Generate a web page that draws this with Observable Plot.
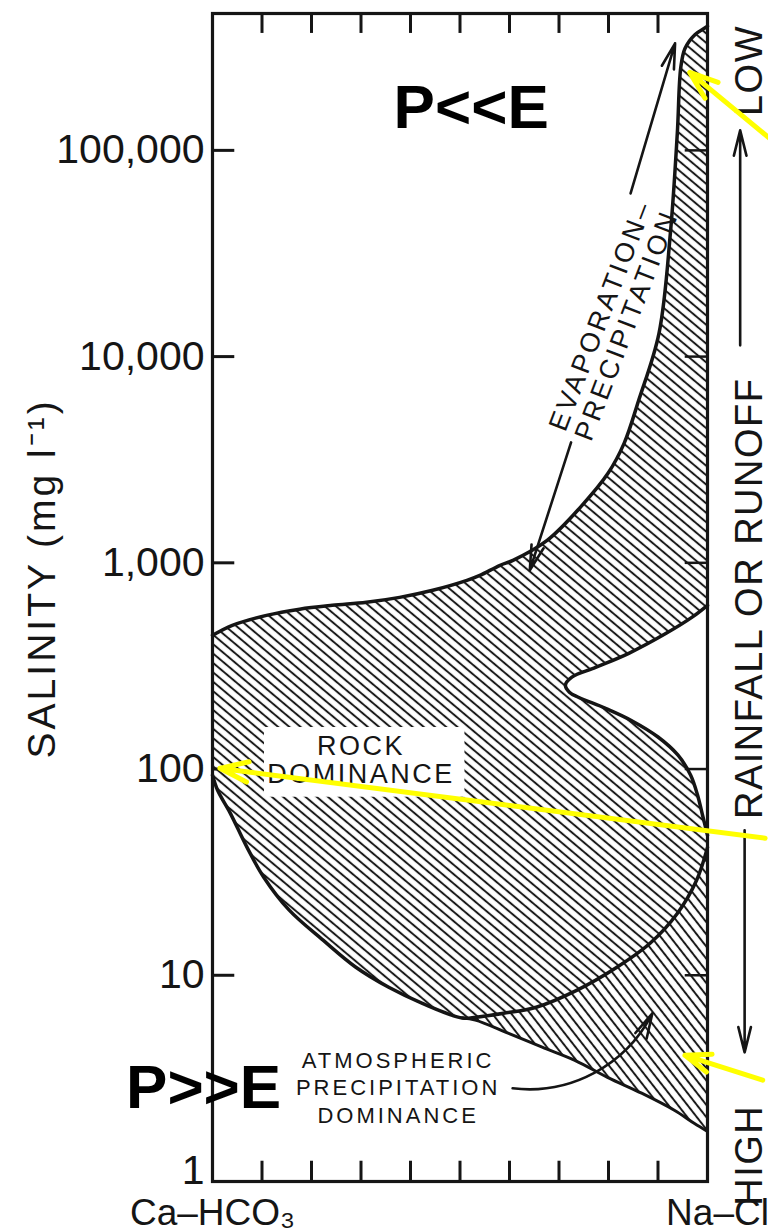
<!DOCTYPE html>
<html><head><meta charset="utf-8">
<script src="https://cdn.jsdelivr.net/npm/d3@7"></script>
<script src="https://cdn.jsdelivr.net/npm/@observablehq/plot@0.6"></script>
<style>
html,body{margin:0;padding:0;background:#fff;}
#chart svg{display:block;}
</style></head>
<body><div id="chart"></div>
<script>
// x: Na/(Na+Ca) ratio 0 (Ca-HCO3) .. 1 (Na-Cl); y: salinity mg/l (log)
const yTicks = [1, 10, 100, 1000, 10000, 100000];
const yTickLabels = ["1", "10", "100", "1,000", "10,000", "100,000"];
const xTicks = [0.1, 0.2, 0.3, 0.4, 0.5, 0.6, 0.7, 0.8, 0.9];
const endLabels = [{t:"Ca–HCO₃", x:0}, {t:"Na–Cl", x:1}];

// upper (evaporation-crystallization) edge, left frame -> top right
const upperEdge = [[0,445],[0.040,498],[0.109,556],[0.176,596],[0.242,622],[0.311,644],[0.378,680],[0.445,736],[0.514,822],[0.540,869],[0.581,973],[0.607,1028],[0.676,1285],[0.743,1858],[0.799,2716],[0.8315,3795],[0.861,6140],[0.902,12970],[0.925,39650],[0.939,120900],[0.946,252000],[0.9545,312000],[0.975,365000],[0.993,390000],[1,400000]];
// notch on the Na-Cl side and the rock-dominance lobe
const notchEdge = [[1,622],[0.969,545],[0.9165,455],[0.841,364],[0.774,311],[0.726,279],[0.713,255],[0.721,236],[0.739,223],[0.794,197],[0.846,172],[0.900,143],[0.940,117],[0.966,93.3],[0.980,74.6],[0.990,59.7],[1,47.7]];
// arc separating rock dominance from atmospheric precipitation
const arcEdge = [[1,41.7],[0.978,28.9],[0.939,19.95],[0.884,14.3],[0.817,10.94],[0.7356,8.45],[0.654,7.0],[0.588,6.54],[0.533,6.26],[0.505,6.2]];
// lower-left edge of rock dominance
const lowerLeftEdge = [[0.505,6.2],[0.424,7.31],[0.356,8.75],[0.2896,10.94],[0.2234,14.8],[0.155,20.7],[0.1035,29.9],[0.0698,41.7],[0.0361,61.0],[0.0103,78.9],[0,93.3]];
// lower edge of the atmospheric precipitation wedge
const lowerEdge = [[1,1.75],[0.973,1.917],[0.933,2.216],[0.867,2.68],[0.798,3.20],[0.732,3.87],[0.666,4.48],[0.597,5.24],[0.531,6.06],[0.505,6.2]];

const regionA = [...upperEdge, ...notchEdge, ...arcEdge, ...lowerLeftEdge.slice(1)];
const regionB = [...lowerEdge, ...arcEdge.slice().reverse()];

// annotation text
const bigLabels = [{t:"P<<E", x:0.5226, y:159800}, {t:"P>>E", x:-0.018, y:2.83}];
const rockLabel = [{t:"ROCK\nDOMINANCE", x:0.300, y:110.9}];
const rockBox = [{x1:0.105, x2:0.51, y1:73, y2:159}];
const atmosLabel = [{t:"ATMOSPHERIC\nPRECIPITATION\nDOMINANCE", x:0.375, y:2.895}];
const evapLabel = [{t:"EVAPORATION–", x:0.785, y:15800}, {t:"PRECIPITATION", x:0.837, y:14200}];
const sideLabels = [{t:"LOW", y:244000}, {t:"RAINFALL OR RUNOFF", y:673}, {t:"HIGH", y:1.34}];
const yTitle = [{t:"SALINITY (mg l⁻¹)", x:-0.343, y:841}];

const blackArrows = [
  {x1:0.8446, y1:61860, x2:0.9345, y2:330300},
  {x1:0.7244, y1:3837, x2:0.641, y2:919},
  {x1:1.066, y1:11340, x2:1.066, y2:125000},
  {x1:1.075, y1:50.5, x2:1.075, y2:4.23}
];
const curvedArrow = [{x1:0.6063, y1:2.83, x2:0.8886, y2:6.54}];
const yellowArrows = [
  {x1:1.1305, y1:111800, x2:0.9642, y2:238800},
  {x1:1.1164, y1:46.2, x2:0.0148, y2:100.8},
  {x1:1.1115, y1:3.10, x2:0.9544, y2:4.09}
];

const X = d => d[0], Y = d => d[1];
const ink = "#151515";

const chart = Plot.plot({
  width: 768, height: 1232,
  marginTop: 13, marginBottom: 51, marginLeft: 212, marginRight: 61,
  x: {domain: [0, 1], axis: null},
  y: {type: "log", domain: [1, 461000], axis: null},
  style: {fontFamily: "'Liberation Sans', Arial, sans-serif", background: "#fff", color: ink, overflow: "visible"},
  marks: [
    Plot.line(regionA, {x: X, y: Y, fill: "url(#hatchA)", stroke: "none"}),
    Plot.line(regionB, {x: X, y: Y, fill: "url(#hatchB)", stroke: "none"}),
    Plot.rect(rockBox, {x1: "x1", x2: "x2", y1: "y1", y2: "y2", fill: "white"}),
    Plot.line(upperEdge, {x: X, y: Y, stroke: ink, strokeWidth: 3.5, curve: "catmull-rom"}),
    Plot.line(notchEdge, {x: X, y: Y, stroke: ink, strokeWidth: 3.5, curve: "catmull-rom"}),
    Plot.line([...arcEdge, ...lowerLeftEdge.slice(1)], {x: X, y: Y, stroke: ink, strokeWidth: 3.5, curve: "catmull-rom"}),
    Plot.line(lowerEdge, {x: X, y: Y, stroke: ink, strokeWidth: 3, curve: "catmull-rom"}),
    Plot.frame({stroke: ink, strokeWidth: 3.2}),
    Plot.ruleY(yTicks.slice(1), {y: d => d, x1: 0, x2: 0.045, stroke: ink, strokeWidth: 3}),
    Plot.ruleY(yTicks.slice(1), {y: d => d, x1: 0.955, x2: 1, stroke: ink, strokeWidth: 2.5}),
    Plot.ruleX(xTicks, {x: d => d, y1: 461000, y2: 369000, stroke: ink, strokeWidth: 3}),
    Plot.ruleX(xTicks, {x: d => d, y1: 1, y2: 1.254, stroke: ink, strokeWidth: 3}),
    Plot.text(yTicks.slice(1), {x: 0, y: d => d, text: d => yTickLabels[yTicks.indexOf(d)], textAnchor: "end", dx: -8, fontSize: 41, lineAnchor: "middle"}),
    Plot.text(yTicks.slice(0, 1), {x: 0, y: d => d, text: d => yTickLabels[yTicks.indexOf(d)], textAnchor: "end", dx: -8, dy: -11, fontSize: 41, lineAnchor: "middle"}),
    Plot.text(endLabels.slice(0, 1), {x: "x", y: 1, text: "t", dy: 32, fontSize: 37, lineAnchor: "middle"}),
    Plot.text(endLabels.slice(1), {x: "x", y: 1, text: "t", dy: 32, dx: 10, fontSize: 37, lineAnchor: "middle"}),
    Plot.text(yTitle, {x: "x", y: "y", text: "t", rotate: -90, fontSize: 39, lineAnchor: "middle"}),
    Plot.text(sideLabels, {x: 1.085, y: "y", text: "t", rotate: -90, fontSize: 38, lineAnchor: "middle"}),
    Plot.text(rockLabel, {x: "x", y: "y", text: "t", fontSize: 27, lineHeight: 1.05, lineAnchor: "middle"}),
    Plot.text(atmosLabel, {x: "x", y: "y", text: "t", fontSize: 22, lineHeight: 1.25, lineAnchor: "middle"}),
    Plot.text(evapLabel, {x: "x", y: "y", text: "t", rotate: -69, fontSize: 27, lineAnchor: "middle"}),
    Plot.text(bigLabels, {x: "x", y: "y", text: "t", fontSize: 62, fontWeight: "bold", lineAnchor: "middle", fill: "#000"}),
    Plot.arrow(blackArrows, {x1: "x1", y1: "y1", x2: "x2", y2: "y2", stroke: ink, strokeWidth: 2.6, headLength: 15, headAngle: 28}),
    Plot.arrow(curvedArrow, {x1: "x1", y1: "y1", x2: "x2", y2: "y2", bend: -35, stroke: ink, strokeWidth: 2.6, headLength: 15, headAngle: 28}),
    Plot.arrow(yellowArrows, {x1: "x1", y1: "y1", x2: "x2", y2: "y2", stroke: "#ffff00", strokeWidth: 5, headLength: 9, headAngle: 40})
  ]
});

// hatch patterns
const ns = "http://www.w3.org/2000/svg";
const defs = document.createElementNS(ns, "defs");
function hatch(id, size, angle, w) {
  const p = document.createElementNS(ns, "pattern");
  p.setAttribute("id", id);
  p.setAttribute("patternUnits", "userSpaceOnUse");
  p.setAttribute("width", size);
  p.setAttribute("height", size);
  p.setAttribute("patternTransform", `rotate(${angle})`);
  const l = document.createElementNS(ns, "line");
  l.setAttribute("x1", -1); l.setAttribute("x2", size + 1);
  l.setAttribute("y1", size / 2); l.setAttribute("y2", size / 2);
  l.setAttribute("stroke", "#1a1a1a");
  l.setAttribute("stroke-width", w);
  p.appendChild(l);
  defs.appendChild(p);
}
hatch("hatchA", 7.2, 40, 2);
hatch("hatchB", 7.5, 52, 2);
chart.insertBefore(defs, chart.firstChild);

// letter spacing for the hand-lettered labels
const spacing = [["ROCK", 2.5], ["ATMOSPHERIC", 3], ["EVAPORATION", 3.2], ["PRECIPITATION", 3.2], ["LOW", 1.5], ["RAINFALL", 1.5], ["HIGH", 1.5], ["SALINITY", 3]];
for (const t of chart.querySelectorAll("text")) {
  const s = t.textContent;
  for (const [k, v] of spacing) if (s.startsWith(k)) t.setAttribute("letter-spacing", v);
}
document.getElementById("chart").appendChild(chart);
</script>
</body></html>
